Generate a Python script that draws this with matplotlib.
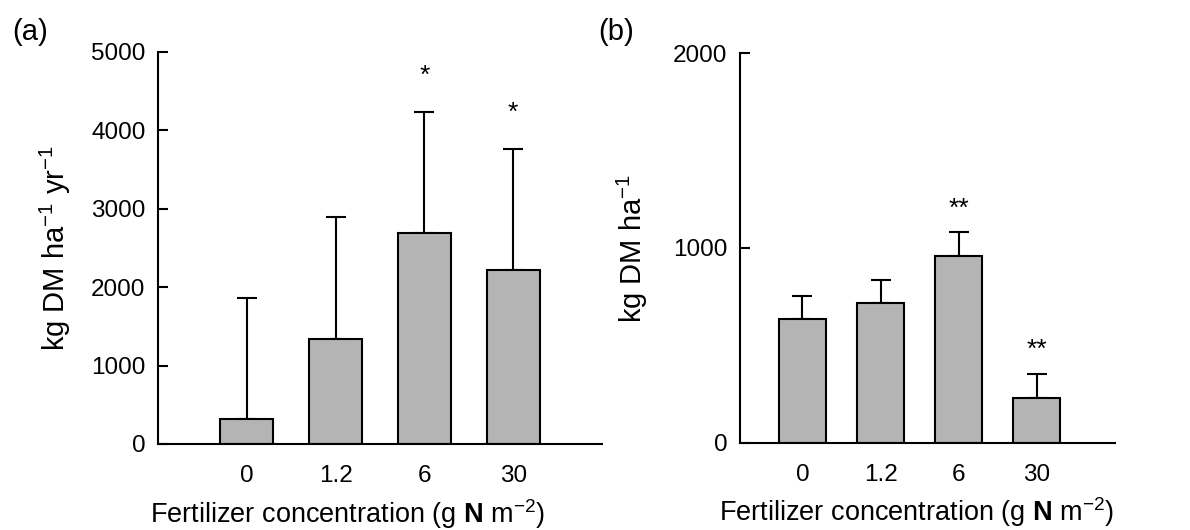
import matplotlib
matplotlib.use('Agg')
import matplotlib.pyplot as plt
import numpy as np

plt.rcParams['font.family'] = ['Liberation Sans', 'DejaVu Sans']
plt.rcParams['mathtext.fontset'] = 'custom'
plt.rcParams['mathtext.rm'] = 'Liberation Sans'
plt.rcParams['mathtext.it'] = 'Liberation Sans'
plt.rcParams['mathtext.bf'] = 'Liberation Sans:bold'
plt.rcParams['mathtext.default'] = 'regular'

# data
conc = ['0', '1.2', '6', '30']

# (a) annual production
mean_a = [319, 1343, 2690, 2220]
err_a = [1543, 1556, 1545, 1543]
sig_a = ['', '', '*', '*']

# (b) biomass
mean_b = [634, 719, 959, 232]
err_b = [121, 117, 121, 122]
sig_b = ['', '', '**', '**']

fig = plt.figure(figsize=(11.9, 5.3), dpi=100)
ax1 = fig.add_axes([0.1328, 0.1623, 0.3731, 0.7396])
ax2 = fig.add_axes([0.6218, 0.1642, 0.3152, 0.7358])

def draw(ax, mean, err, sig, ymax, yticks, ylabel, xlim, off, xlab_x, ylab_x):
    x = np.arange(len(mean))
    ax.bar(x, mean, width=0.6, color='#b4b4b4', edgecolor='black', linewidth=1.5, zorder=2)
    ax.errorbar(x, mean, yerr=[np.zeros(len(err)), err], fmt='none', ecolor='black',
                elinewidth=1.5, capsize=7, capthick=1.5, zorder=1)
    for xi, m, e, s in zip(x, mean, err, sig):
        if s:
            ax.annotate(s, (xi, m + e), xytext=(0, off), textcoords='offset points',
                        ha='center', va='center', fontsize=19)
    ax.set_xlim(*xlim)
    ax.set_ylim(0, ymax)
    ax.set_xticks(x)
    ax.set_xticklabels(conc)
    ax.set_yticks(yticks)
    ax.spines['top'].set_visible(False)
    ax.spines['right'].set_visible(False)
    for sp in ['left', 'bottom']:
        ax.spines[sp].set_linewidth(1.5)
    ax.tick_params(axis='y', direction='in', length=7, width=1.5, labelsize=17.5, pad=9)
    ax.tick_params(axis='x', direction='in', length=0, labelsize=17.5, pad=15)
    ax.set_xlabel('Fertilizer concentration (g $\\mathbf{N}$ m$^{-2}$)', fontsize=19.5)
    ax.set_ylabel(ylabel, fontsize=21)
    ax.xaxis.set_label_coords(xlab_x, -0.135)
    ax.yaxis.set_label_coords(ylab_x, 0.5)

draw(ax1, mean_a, err_a, sig_a, 5000, [0, 1000, 2000, 3000, 4000, 5000],
     'kg DM ha$^{-1}$ yr$^{-1}$', (-1, 4), 26, 0.426, -0.191)
draw(ax2, mean_b, err_b, sig_b, 2000, [0, 1000, 2000],
     'kg DM ha$^{-1}$', (-0.8, 4), 17, 0.472, -0.24)

fig.text(0.010, 0.94, '(a)', fontsize=21, va='center', ha='left')
fig.text(0.503, 0.94, '(b)', fontsize=21, va='center', ha='left')

fig.savefig('out.png', dpi=100)
